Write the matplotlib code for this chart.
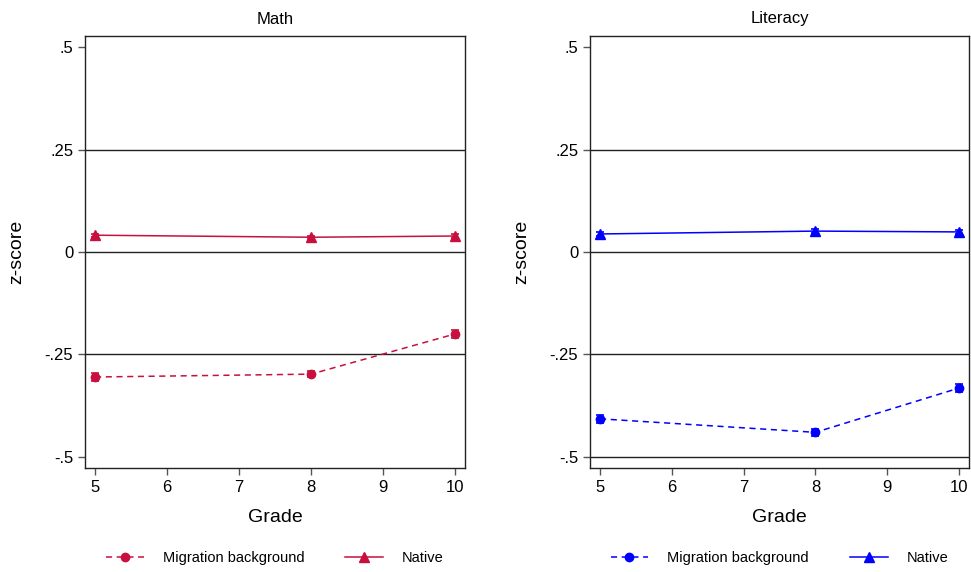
import matplotlib
matplotlib.use("Agg")
import matplotlib.pyplot as plt
from matplotlib.lines import Line2D

plt.rcParams['font.family'] = ['Liberation Sans', 'DejaVu Sans']

grades = [5, 8, 10]

# mean z-scores and standard errors by grade
math_migr = [-0.305, -0.298, -0.200]
math_migr_se = [0.010, 0.008, 0.010]
math_native = [0.041, 0.036, 0.039]
math_native_se = [0.004, 0.004, 0.004]

lit_migr = [-0.407, -0.440, -0.332]
lit_migr_se = [0.010, 0.008, 0.010]
lit_native = [0.044, 0.051, 0.049]
lit_native_se = [0.004, 0.004, 0.004]

yticks = [-0.5, -0.25, 0, 0.25, 0.5]
ytick_labels = ['-.5', '-.25', '0', '.25', '.5']

W, H = 971, 572
fig = plt.figure(figsize=(W / 100, H / 100), dpi=100)


def panel(rect, title, migr, migr_se, native, native_se, color, grid_at):
    x0, y_top, w, h = rect
    ax = fig.add_axes([x0 / W, 1 - (y_top + h) / H, w / W, h / H])
    for g in grid_at:
        ax.axhline(g, color='#222222', lw=1.0, zorder=1)
    ax.errorbar(grades, migr, yerr=migr_se, color=color, ls='--', lw=1.1,
                marker='o', ms=6, capsize=3, elinewidth=1.2, capthick=1.2,
                dashes=(4, 3), zorder=3)
    ax.errorbar(grades, native, yerr=native_se, color=color, ls='-', lw=1.1,
                marker='^', ms=7, capsize=3, elinewidth=1.2, capthick=1.2,
                zorder=3)
    ax.set_xlim(4.86, 10.14)
    ax.set_ylim(-0.527, 0.527)
    ax.set_xticks(range(5, 11))
    ax.set_yticks(yticks)
    ax.set_yticklabels(ytick_labels)
    ax.tick_params(axis='both', labelsize=12, length=5, width=1, color='#555555')
    for s in ax.spines.values():
        s.set_color('#222222')
        s.set_linewidth(1.0)
    ax.set_title(title, fontsize=12, pad=9)
    ax.set_xlabel('Grade', fontsize=14, labelpad=10)
    ax.set_ylabel('z-score', fontsize=14, labelpad=14)

    handles = [
        Line2D([], [], color=color, ls='--', dashes=(4, 3), lw=1.1,
               marker='o', ms=6),
        Line2D([], [], color=color, ls='-', lw=1.1, marker='^', ms=7),
    ]
    fig.legend(handles, ['Migration background', 'Native'], ncol=2,
               frameon=False, fontsize=10.5, loc='center',
               bbox_to_anchor=((x0 + w / 2) / W, 1 - 558 / H),
               handlelength=2.6, columnspacing=2.8, handletextpad=1.3)
    return ax


panel((85, 36, 380, 432), 'Math', math_migr, math_migr_se, math_native,
      math_native_se, '#C8103E', [0.25, 0, -0.25])
panel((590, 36, 379, 432), 'Literacy', lit_migr, lit_migr_se, lit_native,
      lit_native_se, '#0000FF', [0.25, 0, -0.25, -0.5])

fig.savefig('out.png', dpi=100)
